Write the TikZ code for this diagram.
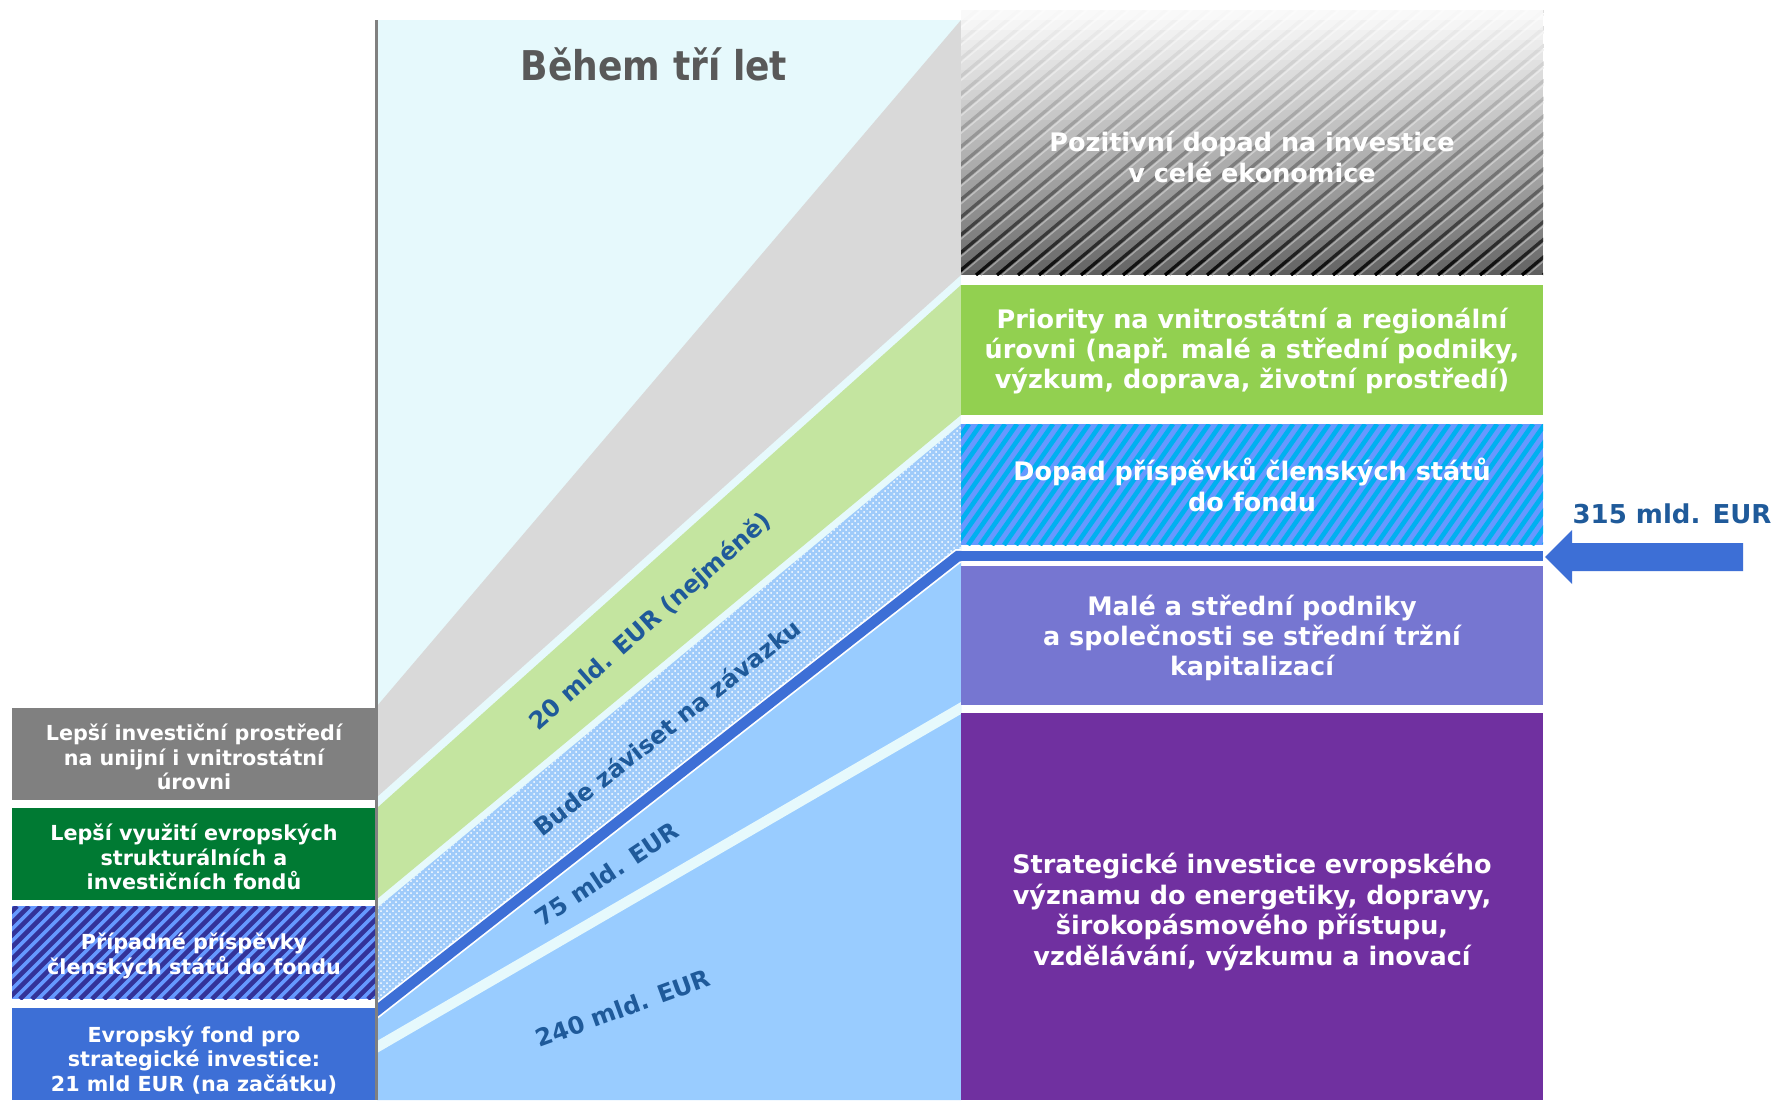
\documentclass[tikz,border=0pt]{standalone}
\usepackage{fontspec}
\setmainfont{DejaVu Sans}
\newfontfamily\titlefont[FakeStretch=0.88]{DejaVu Sans}
\usetikzlibrary{patterns}

\definecolor{bgcyan}{HTML}{E6F9FC}
\definecolor{bandgray}{HTML}{D9D9D9}
\definecolor{bandgreen}{HTML}{C4E5A0}
\definecolor{banddot}{HTML}{9FCBFA}
\definecolor{bandblue}{HTML}{99CCFF}
\definecolor{fundblue}{HTML}{3D6FD6}
\definecolor{boxgray}{HTML}{808080}
\definecolor{boxgreen}{HTML}{007A33}
\definecolor{hatchnavy}{HTML}{333399}
\definecolor{hatchlight}{HTML}{6699FF}
\definecolor{hatchcyan}{HTML}{00B0F0}
\definecolor{stripebase}{HTML}{5E5E5E}
\definecolor{prioritygreen}{HTML}{92D050}
\definecolor{smepurple}{HTML}{7676D1}
\definecolor{strpurple}{HTML}{7030A0}
\definecolor{labelblue}{HTML}{1F5A9A}
\definecolor{titlegray}{HTML}{595959}

\begin{document}
\begin{tikzpicture}[x=0.5pt,y=-0.5pt,
  every node/.style={inner sep=0pt},
  lefttext/.style={text=white,align=center,font=\fontsize{10.35}{12.3}\selectfont\bfseries},
  righttext/.style={text=white,align=center,font=\fontsize{12.75}{15.2}\selectfont\bfseries},
  bandlabel/.style={text=labelblue,font=\fontsize{12}{14}\selectfont\bfseries}]
\useasboundingbox[fill=white] (0,0) rectangle (1773,1100);

% middle part with the bands
\fill[bgcyan] (377,20) rectangle (961,1100);
\fill[bandgray] (377,706) -- (961,20) -- (961,275) -- (377,797) -- cycle;
\fill[bandgreen] (377,808) -- (961,285) -- (961,415) -- (377,899) -- cycle;
\fill[banddot] (377,908) -- (961,424) -- (961,556) -- (377,1010) -- cycle;
\fill[pattern=crosshatch dots,pattern color=white] (377,908) -- (961,424) -- (961,556) -- (377,1010) -- cycle;
\fill[bandblue] (377,1010) -- (961,556) -- (961,1100) -- (377,1100) -- cycle;
\begin{scope}
\clip (377,20) rectangle (961,1100);
\draw[bgcyan,line width=5.2pt] (357,1058.6) -- (981,696.4);
\draw[white,line width=7pt] (357,1026) -- (958,556) -- (990,556);
\draw[fundblue,line width=5.25pt] (357,1026) -- (958,556) -- (990,556);
\end{scope}
\draw[boxgray,line width=1.5pt] (376,20) -- (376,1100);

% left column
\fill[boxgray] (12,708) rectangle (375,800);
\fill[boxgreen] (12,808) rectangle (375,900);
\begin{scope}
\clip (12,906) rectangle (375,999);
\fill[hatchlight] (12,906) rectangle (375,999);
\foreach \x in {-100,-88,...,380}
  \draw[hatchnavy,line width=2.3pt] (\x,999) -- ++(93,-93);
\end{scope}
\fill[fundblue] (12,1008) rectangle (375,1100);

% right column
\begin{scope}
\clip (961,10) rectangle (1543,275);
\fill[stripebase] (961,10) rectangle (1543,275);
\foreach \x in {640,661,...,1560} {
  \draw[black,line width=1.6pt] (\x,275) -- ++(316,-265);
  \draw[white!60!black,line width=0.7pt] (\x+5,275) -- ++(316,-265);
}
\foreach \i [evaluate=\i as \op using {0.97*(1-\i/26)^0.8}] in {0,...,26}
  \fill[white,fill opacity=\op] (961,10+\i*10) rectangle (1543,20+\i*10);
\end{scope}
\fill[prioritygreen] (961,285) rectangle (1543,415);
\begin{scope}
\clip (961,424) rectangle (1543,545);
\fill[hatchlight] (961,424) rectangle (1543,545);
\foreach \x in {860,872,...,1560}
  \draw[hatchcyan,line width=2.3pt] (\x,545) -- ++(85,-121);
\end{scope}
\fill[fundblue] (961,551) rectangle (1543,561);
\fill[smepurple] (961,566) rectangle (1543,705);
\fill[strpurple] (961,713) rectangle (1543,1100);

% arrow
\coordinate (tail) at (1743,557);
\coordinate (tip) at (1545,557);
\fill[fundblue] (tail) ++(0,-14) -- (1572,543) -- (1572,530) -- (tip)
  -- (1572,584) -- (1572,571) -- (1743,571) -- cycle;

% texts
\node[font=\titlefont\bfseries\fontsize{20.5}{24}\selectfont,text=titlegray,anchor=base] (title) at (654,80) {Během tří let};
\node[font=\fontsize{13}{15}\selectfont\bfseries,text=labelblue,anchor=base] (total) at (1672,523) {315 mld. EUR};

\node[lefttext] (climate) at (194,757) {Lepší investiční prostředí\\na unijní i vnitrostátní\\úrovni};
\node[lefttext] (esif) at (194,857) {Lepší využití evropských\\strukturálních a\\investičních fondů};
\node[lefttext] (member) at (194,956) {Případné příspěvky\\členských států do fondu};
\node[lefttext] (efsi) at (194,1060) {Evropský fond pro\\strategické investice:\\21 mld EUR (na začátku)};

\node[righttext] (impact) at (1252,157) {Pozitivní dopad na investice\\v celé ekonomice};
\node[righttext] (priority) at (1252,351) {Priority na vnitrostátní a regionální\\úrovni (např. malé a střední podniky,\\výzkum, doprava, životní prostředí)};
\node[righttext] (contrib) at (1252,485) {Dopad příspěvků členských států\\do fondu};
\node[righttext] (sme) at (1252,638) {Malé a střední podniky\\a společnosti se střední tržní\\kapitalizací};
\node[righttext] (strategic) at (1252,912) {Strategické investice evropského\\významu do energetiky, dopravy,\\širokopásmového přístupu,\\vzdělávání, výzkumu a inovací};

\node[bandlabel,rotate=41.5] (l20) at (651,622) {20 mld. EUR (nejméně)};
\node[bandlabel,rotate=38.3] (lbude) at (667,727) {Bude záviset na závazku};
\node[bandlabel,rotate=33.7] (l75) at (607,874) {75 mld. EUR};
\node[bandlabel,rotate=20] (l240) at (623,1008) {240 mld. EUR};
\end{tikzpicture}
\end{document}
